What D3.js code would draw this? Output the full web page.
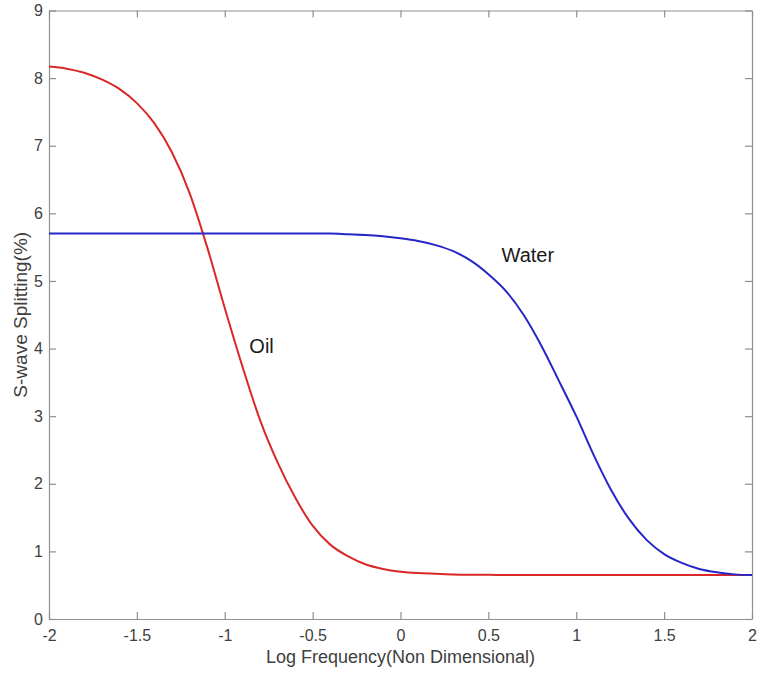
<!DOCTYPE html>
<html>
<head>
<meta charset="utf-8">
<script src="https://cdn.jsdelivr.net/npm/d3@7"></script>
<style>
  body { margin: 0; background: #fff; }
  svg text { font-family: "Liberation Sans", Arial, sans-serif; }
</style>
</head>
<body>
<div id="chart"></div>
<script>
const width = 757;
const height = 675;
const margin = { top: 10.5, right: 5, bottom: 56, left: 49 };

// log frequency samples (non dimensional)
const logFreq = [
  -2.0, -1.9, -1.8, -1.7, -1.6, -1.5, -1.4, -1.3, -1.2, -1.1, -1.0,
  -0.9, -0.8, -0.7, -0.6, -0.5, -0.4, -0.3, -0.2, -0.1, 0.0,
  0.1, 0.2, 0.3, 0.4, 0.5, 0.6, 0.7, 0.8, 0.9, 1.0,
  1.1, 1.2, 1.3, 1.4, 1.5, 1.6, 1.7, 1.8, 1.9, 2.0
];

// S-wave splitting (%)
const oilSplit = [
  8.17, 8.14, 8.08, 7.98, 7.84, 7.63, 7.33, 6.9, 6.3, 5.5, 4.6,
  3.74, 2.95, 2.32, 1.8, 1.38, 1.1, 0.93, 0.81, 0.74, 0.7,
  0.68, 0.67, 0.66, 0.655, 0.653, 0.652, 0.651, 0.65, 0.65, 0.65,
  0.65, 0.65, 0.65, 0.65, 0.65, 0.65, 0.65, 0.65, 0.65, 0.65
];

const waterSplit = [
  5.7, 5.7, 5.7, 5.7, 5.7, 5.7, 5.7, 5.7, 5.7, 5.7, 5.7,
  5.7, 5.7, 5.7, 5.7, 5.7, 5.7, 5.69, 5.68, 5.66, 5.63,
  5.59, 5.53, 5.44, 5.3, 5.1, 4.85, 4.5, 4.05, 3.53, 3.0,
  2.42, 1.9, 1.48, 1.17, 0.96, 0.83, 0.74, 0.69, 0.66, 0.65
];

const xTicks = [-2, -1.5, -1, -0.5, 0, 0.5, 1, 1.5, 2];
const yTicks = [0, 1, 2, 3, 4, 5, 6, 7, 8, 9];

const labels = [
  { text: "Water", x: 0.575, y: 5.38 },
  { text: "Oil", x: -0.86, y: 4.04 }
];

const axisColor = "#8f8f8f";
const textColor = "#404040";

const svg = d3
  .select("#chart")
  .append("svg")
  .attr("width", width)
  .attr("height", height);

const x = d3
  .scaleLinear()
  .domain([-2, 2])
  .range([margin.left, width - margin.right]);

const y = d3
  .scaleLinear()
  .domain([0, 9])
  .range([height - margin.bottom, margin.top]);

// plain hyphen for negatives, like the original
const tickFmt = (d) => String(d);

// bottom axis, ticks pointing inside
const xAxis = svg
  .append("g")
  .attr("transform", `translate(0,${y(0)})`)
  .call(
    d3.axisBottom(x)
      .tickValues(xTicks)
      .tickFormat(tickFmt)
      .tickSizeInner(-7)
      .tickSizeOuter(0)
      .tickPadding(11)
  );

const yAxis = svg
  .append("g")
  .attr("transform", `translate(${x(-2)},0)`)
  .call(
    d3.axisLeft(y)
      .tickValues(yTicks)
      .tickFormat(tickFmt)
      .tickSizeInner(-7)
      .tickSizeOuter(0)
      .tickPadding(6)
  );

// top and right box edges with ticks
const topAxis = svg
  .append("g")
  .attr("transform", `translate(0,${y(9)})`)
  .call(d3.axisTop(x).tickValues(xTicks).tickFormat("").tickSizeInner(-7).tickSizeOuter(0));

const rightAxis = svg
  .append("g")
  .attr("transform", `translate(${x(2)},0)`)
  .call(d3.axisRight(y).tickValues(yTicks).tickFormat("").tickSizeInner(-7).tickSizeOuter(0));

[xAxis, yAxis, topAxis, rightAxis].forEach((g) => {
  g.selectAll("path, line").attr("stroke", axisColor).attr("stroke-width", 1.2);
  g.selectAll("text")
    .attr("fill", textColor)
    .style("font-size", "16px");
});

const line = d3
  .line()
  .x((d) => x(d[0]))
  .y((d) => y(d[1]))
  .curve(d3.curveMonotoneX);

const series = [
  { name: "Oil", values: oilSplit, color: "#d82828" },
  { name: "Water", values: waterSplit, color: "#2626c8" }
];

svg
  .append("g")
  .selectAll("path")
  .data(series)
  .enter()
  .append("path")
  .attr("fill", "none")
  .attr("stroke", (d) => d.color)
  .attr("stroke-width", 2)
  .attr("d", (d) => line(logFreq.map((f, i) => [f, d.values[i]])));

svg
  .append("g")
  .selectAll("text")
  .data(labels)
  .enter()
  .append("text")
  .attr("x", (d) => x(d.x))
  .attr("y", (d) => y(d.y))
  .attr("dy", "0.35em")
  .attr("fill", "#1a1a1a")
  .style("font-size", "20px")
  .text((d) => d.text);

// axis titles
svg
  .append("text")
  .attr("x", (x(-2) + x(2)) / 2)
  .attr("y", 663)
  .attr("text-anchor", "middle")
  .attr("fill", textColor)
  .style("font-size", "18px")
  .text("Log Frequency(Non Dimensional)");

svg
  .append("text")
  .attr("transform", `translate(27,${(y(0) + y(9)) / 2}) rotate(-90)`)
  .attr("text-anchor", "middle")
  .attr("fill", textColor)
  .style("font-size", "19px")
  .text("S-wave Splitting(%)");
</script>
</body>
</html>
